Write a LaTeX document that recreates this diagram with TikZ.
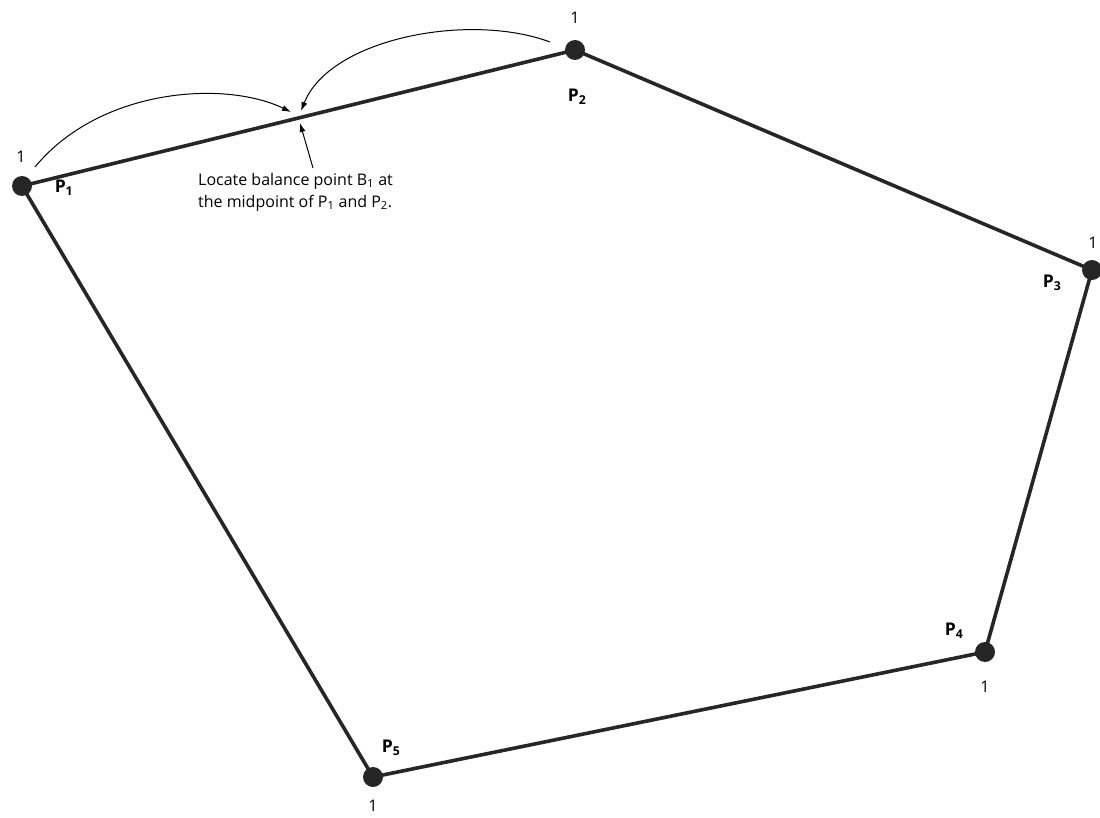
\documentclass[tikz,border=0pt]{standalone}
\usepackage{fontspec}
\setmainfont{Open Sans}
\usepackage{tikz}
\usetikzlibrary{arrows.meta}
\tikzset{>={Latex[width=6pt,length=9pt]}}
\tikzset{
  dot/.style={circle,fill=black!85,inner sep=0pt,minimum size=20pt},
  plabel/.style={font=\fontsize{17.5}{19}\selectfont\bfseries},
  wlabel/.style={font=\fontsize{16}{22}\selectfont},
  edge/.style={line width=3.6pt,black!85},
  pointer/.style={->,line width=1pt}
}

\begin{document}
\begin{tikzpicture}[x=1pt,y=-1pt]
  \useasboundingbox (0,0) rectangle (1100,818);

  % corner points of the polygon
  \node[dot] (p1) at (22,186) {};
  \node[dot] (p2) at (575,50) {};
  \node[dot] (p3) at (1092,270) {};
  \node[dot] (p4) at (985,652) {};
  \node[dot] (p5) at (373,777) {};

  % sides
  \draw[edge] (p1.center) -- (p2.center) -- (p3.center) -- (p4.center) -- (p5.center) -- cycle;

  % point names
  \node[plabel] (n1) at (64,188) {P\textsubscript{1}};
  \node[plabel] (n2) at (577,97) {P\textsubscript{2}};
  \node[plabel] (n3) at (1052,283) {P\textsubscript{3}};
  \node[plabel] (n4) at (954,631) {P\textsubscript{4}};
  \node[plabel] (n5) at (391,748) {P\textsubscript{5}};

  % weights
  \node[wlabel] (w1) at (21,157) {1};
  \node[wlabel] (w2) at (575,18) {1};
  \node[wlabel] (w3) at (1093,243) {1};
  \node[wlabel] (w4) at (985,687) {1};
  \node[wlabel] (w5) at (373,806) {1};

  % balance point
  \coordinate (b1) at (298.5,118);
  \node[wlabel,align=left,anchor=north west,inner sep=0pt] (note) at (198,173)
    {Locate balance point B\textsubscript{1} at\\the midpoint of P\textsubscript{1} and P\textsubscript{2}.};

  \draw[pointer] (35,167) .. controls (100,88) and (225,80) .. (291,112);
  \draw[pointer] (550,42) .. controls (470,12) and (330,38) .. (301,111);
  \draw[pointer] (313,168) -- (300,123);
\end{tikzpicture}
\end{document}
